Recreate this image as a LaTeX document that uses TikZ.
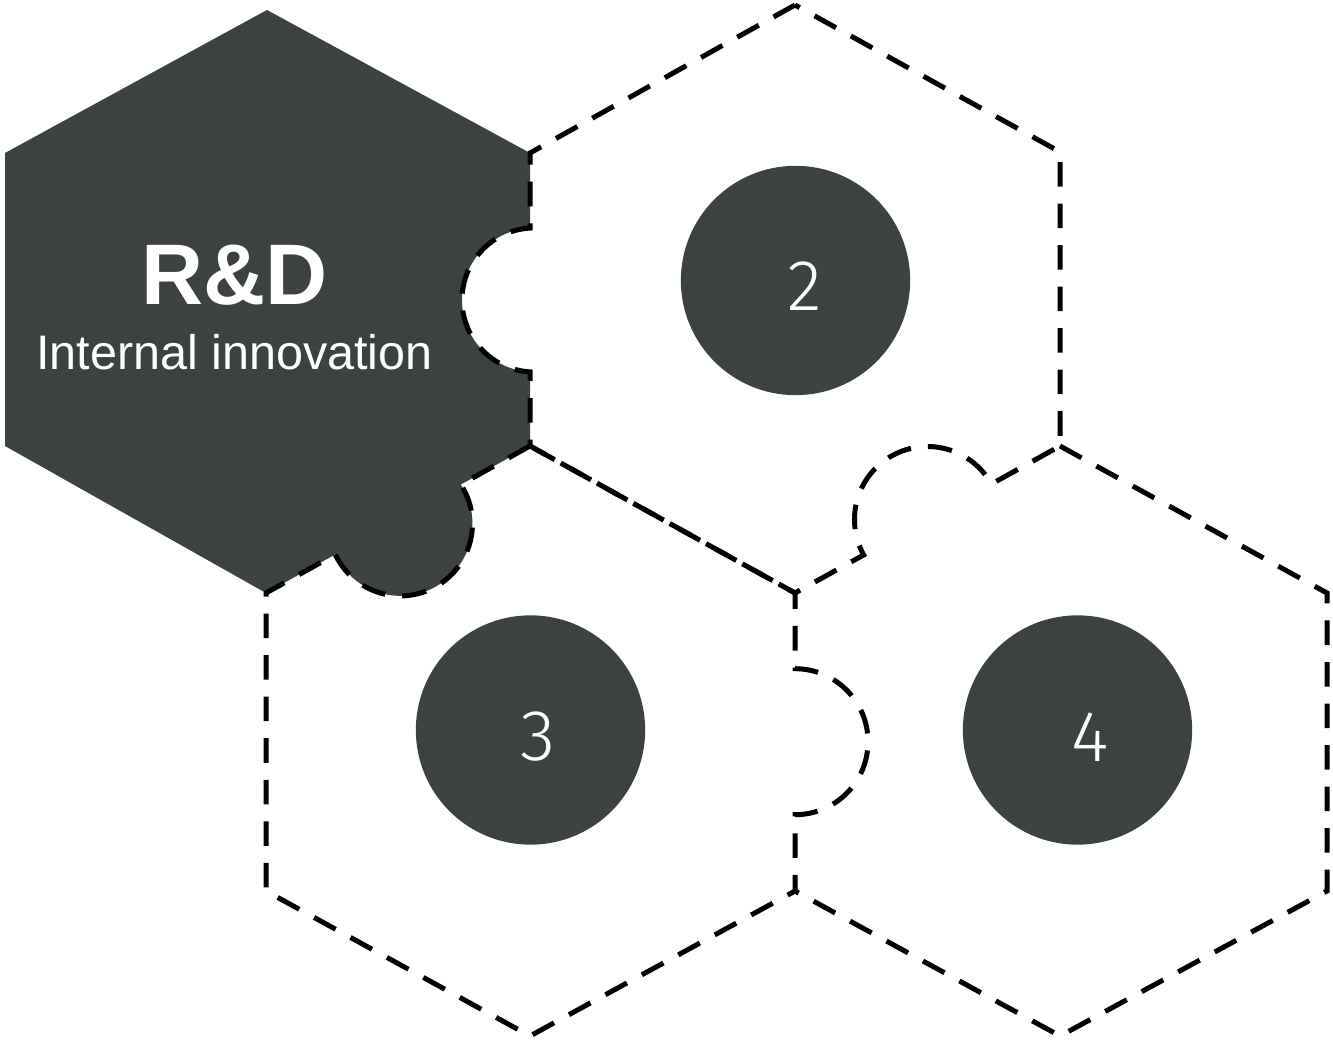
\documentclass[tikz,border=0pt]{standalone}
\usepackage{fontspec}
\setmainfont{Liberation Sans}
\newfontfamily\numfont{Fira Sans Light}
\definecolor{hexdark}{RGB}{60,65,66}
\tikzset{
  dashedge/.style={draw=black, line width=3.75pt, dash pattern=on 18.4pt off 12.75pt, line join=miter},
  darkfill/.style={fill=hexdark},
  numcircle/.style={circle, fill=hexdark, minimum size=172pt, inner sep=0pt},
  numtext/.style={text=white, inner sep=0pt, font=\numfont\fontsize{54pt}{60pt}\selectfont},
  titletext/.style={text=white, inner sep=0pt, anchor=base, font=\bfseries\fontsize{64.5pt}{70pt}\selectfont},
  subtext/.style={text=white, inner sep=0pt, anchor=base, font=\fontsize{36.4pt}{40pt}\selectfont},
}
\begin{document}
\begin{tikzpicture}[x=0.75pt,y=0.75pt]
\useasboundingbox (0,0) rectangle (1333,1043);
% hexagon 1 (dark, R&D)
\fill[darkfill] (267,1033) -- (530,890) -- (530,814.9)
  arc[start angle=93.18, end angle=266.82, radius=54pt] -- (530,597)
  -- (460.76,558.43) arc[start angle=33.09, end angle=-154.87, radius=54pt]
  -- (266,450) -- (5,597) -- (5,890) -- cycle;
% circles
\node[numcircle] (c2) at (795.5,762.5) {};
\node[numcircle] (c3) at (530.5,313) {};
\node[numcircle] (c4) at (1077.5,313) {};
% hexagon 2 (with the knob of hexagon 4)
\draw[dashedge] (795,1038) -- (530,890) -- (530,814.9)
  arc[start angle=93.18, end angle=266.82, radius=54pt] -- (530,597)
  -- (795,450) -- (863.66,488.09) arc[start angle=209.02, end angle=29.02, radius=54.75pt]
  -- (1060,597) -- (1060,891) -- cycle;
% hexagon 3 (with its knob into hexagon 4)
\draw[dashedge] (530,597) -- (460.76,558.43)
  arc[start angle=33.09, end angle=-154.87, radius=54pt]
  -- (266,450) -- (266,152) -- (530,7) -- (795,152) -- (795,228.3)
  arc[start angle=-90, end angle=90, radius=54.75pt] -- (795,450) -- cycle;
% hexagon 4 (outer edges only)
\draw[dashedge] (1060,597) -- (1327,450) -- (1327,152) -- (1060,7) -- (795,152);
% texts
\node[titletext] (rd) at (234.7,738) {R\&D};
\node[subtext] (ii) at (234.5,673) {Internal innovation};
\node[numtext] (n2) at (805,757) {2};
\node[numtext] (n3) at (538,306) {3};
\node[numtext] (n4) at (1090,306) {4};
\end{tikzpicture}
\end{document}
